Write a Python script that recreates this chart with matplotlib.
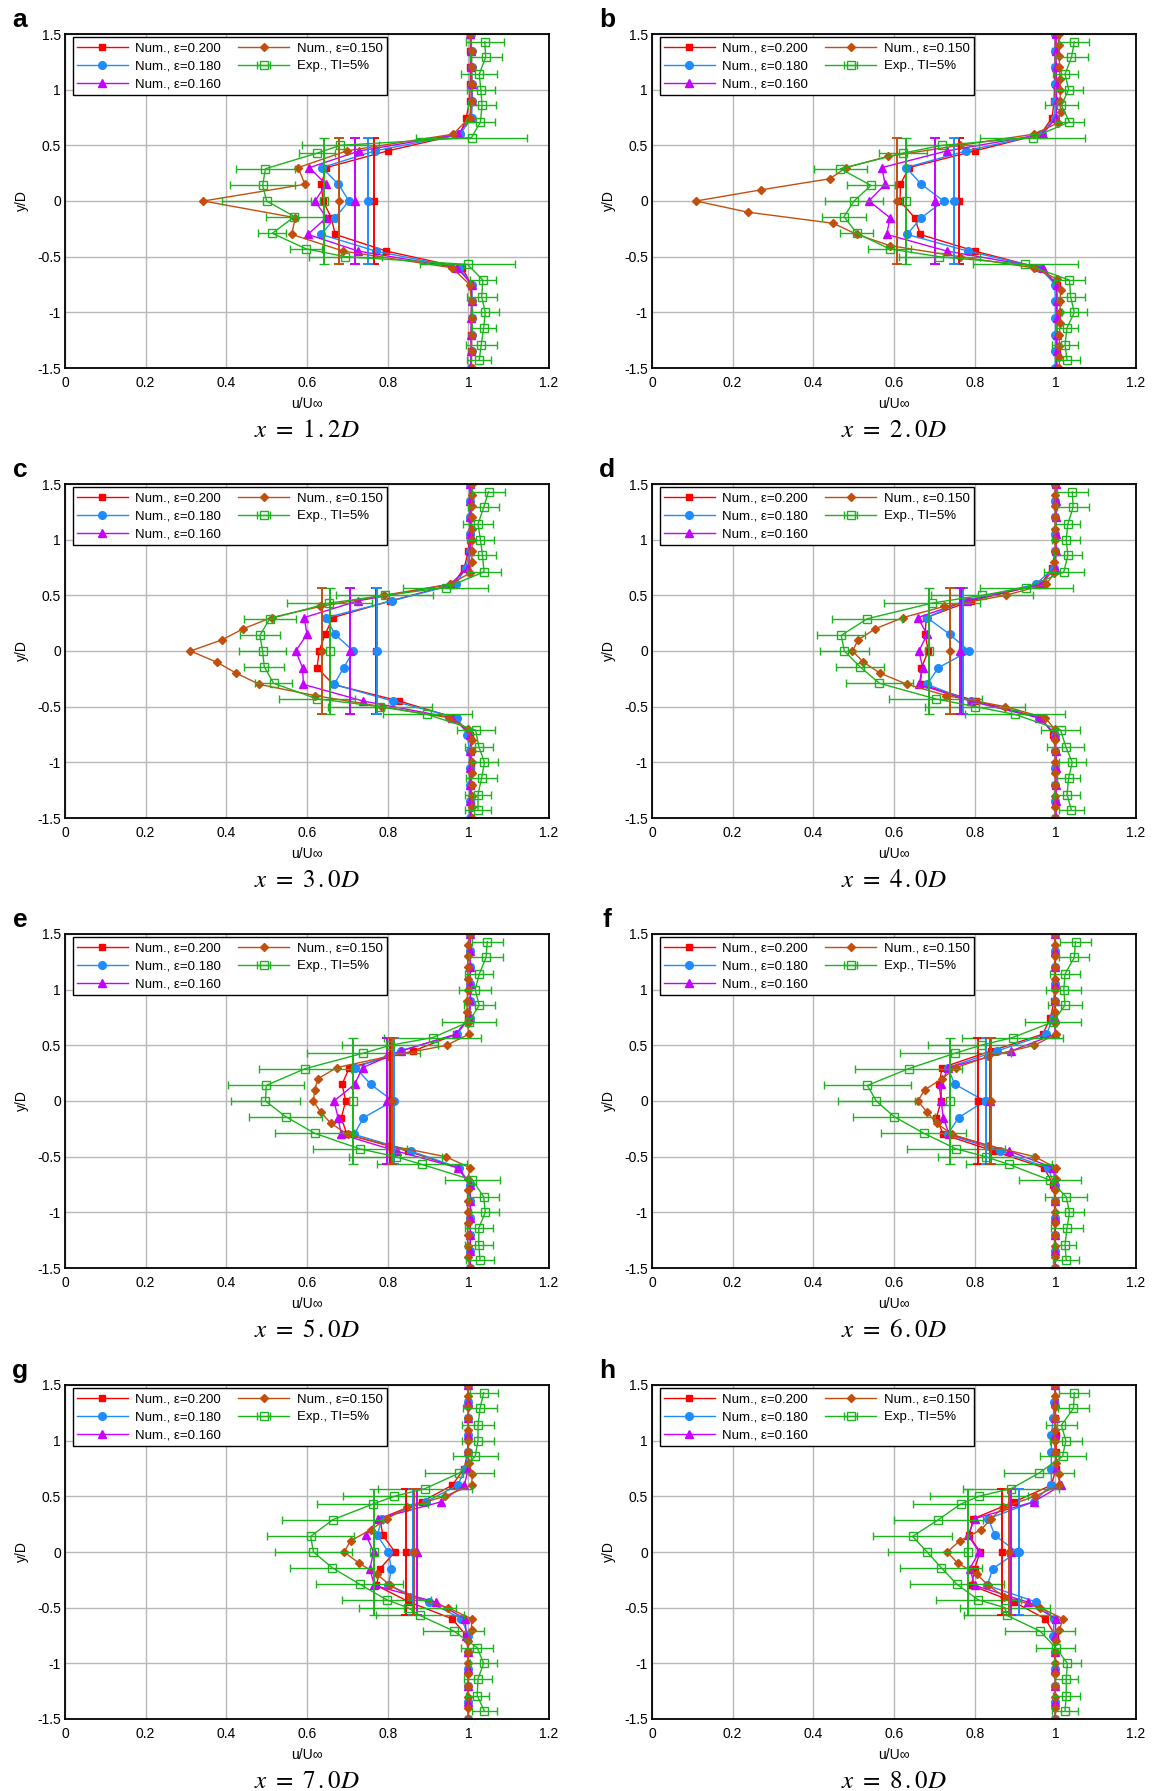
import numpy as np
import matplotlib.pyplot as plt

plt.rcParams['font.family'] = ['Liberation Sans', 'DejaVu Sans']
plt.rcParams['mathtext.fontset'] = 'stix'

panels = ['a', 'b', 'c', 'd', 'e', 'f', 'g', 'h']
stations = ['1', '2', '3', '4', '5', '6', '7', '8']
station_dec = ['2', '0', '0', '0', '0', '0', '0', '0']

# y/D stations of the numerical profiles
y_num = [1.5, 1.35, 1.2, 1.05, 0.9, 0.75, 0.6, 0.45, 0.3, 0.15, 0,
         -0.15, -0.3, -0.45, -0.6, -0.75, -0.9, -1.05, -1.2, -1.35, -1.5]
y_fine = [1.5, 1.4, 1.3, 1.2, 1.1, 1.0, 0.9, 0.8, 0.7, 0.6, 0.5, 0.4, 0.3, 0.2, 0.1, 0,
          -0.1, -0.2, -0.3, -0.4, -0.5, -0.6, -0.7, -0.8, -0.9, -1.0, -1.1, -1.2, -1.3, -1.4, -1.5]
y_exp = [1.43, 1.29, 1.14, 1.0, 0.86, 0.71, 0.57, 0.5, 0.43, 0.29, 0.14, 0,
         -0.14, -0.29, -0.43, -0.5, -0.57, -0.71, -0.86, -1.0, -1.14, -1.29, -1.43]

# Num., eps=0.200
eps200 = {
    'a': [1.005, 1.005, 1.005, 1.005, 1.003, 0.995, 0.98, 0.80, 0.648, 0.635, 0.64, 0.66, 0.67, 0.797, 0.985, 1.007, 1.008, 1.008, 1.007, 1.007, 1.007],
    'b': [1.0, 0.999, 0.999, 0.998, 0.997, 0.992, 0.964, 0.80, 0.637, 0.616, 0.615, 0.651, 0.665, 0.80, 0.96, 1.003, 1.004, 1.004, 1.004, 1.004, 1.004],
    'c': [1.005, 1.005, 1.005, 1.003, 1.0, 0.99, 0.963, 0.807, 0.664, 0.645, 0.63, 0.625, 0.665, 0.829, 0.967, 1.005, 1.007, 1.007, 1.007, 1.007, 1.007],
    'd': [1.0, 1.0, 1.0, 1.0, 1.0, 0.992, 0.965, 0.79, 0.68, 0.677, 0.685, 0.668, 0.666, 0.804, 0.965, 0.995, 1.0, 1.0, 1.0, 1.0, 1.0],
    'e': [1.005, 1.005, 1.005, 1.005, 1.005, 1.0, 0.97, 0.864, 0.705, 0.687, 0.696, 0.685, 0.699, 0.85, 0.975, 1.005, 1.005, 1.005, 1.005, 1.005, 1.005],
    'f': [1.0, 1.0, 1.0, 0.998, 0.997, 0.988, 0.969, 0.841, 0.719, 0.712, 0.717, 0.705, 0.722, 0.847, 0.972, 0.995, 1.0, 1.0, 1.0, 1.0, 1.0],
    'g': [1.0, 1.0, 1.0, 1.0, 0.998, 0.99, 0.96, 0.884, 0.781, 0.788, 0.818, 0.781, 0.772, 0.854, 0.96, 0.995, 1.0, 1.0, 1.0, 1.0, 1.0],
    'h': [1.0, 1.0, 1.0, 1.002, 1.002, 1.002, 0.99, 0.898, 0.797, 0.786, 0.813, 0.80, 0.792, 0.898, 0.975, 1.0, 1.0, 1.0, 1.0, 1.0, 1.0],
}
# Num., eps=0.180
eps180 = {
    'a': [1.007, 1.008, 1.008, 1.01, 1.01, 1.008, 0.98, 0.768, 0.637, 0.678, 0.704, 0.67, 0.635, 0.77, 0.978, 1.008, 1.01, 1.01, 1.008, 1.008, 1.007],
    'b': [1.0, 1.0, 1.0, 1.0, 1.0, 0.998, 0.966, 0.779, 0.63, 0.668, 0.723, 0.668, 0.632, 0.783, 0.962, 0.999, 1.0, 1.0, 1.0, 1.0, 1.0],
    'c': [1.003, 1.003, 1.003, 1.003, 1.003, 0.994, 0.969, 0.81, 0.648, 0.669, 0.715, 0.691, 0.667, 0.813, 0.972, 0.997, 1.003, 1.003, 1.003, 1.003, 1.003],
    'd': [1.0, 1.0, 1.0, 1.0, 1.0, 0.997, 0.952, 0.772, 0.682, 0.738, 0.786, 0.71, 0.682, 0.79, 0.96, 1.0, 1.0, 1.0, 1.0, 1.0, 1.0],
    'e': [1.005, 1.005, 1.005, 1.005, 1.005, 1.003, 0.972, 0.832, 0.72, 0.758, 0.813, 0.74, 0.717, 0.857, 0.978, 1.003, 1.005, 1.005, 1.005, 1.005, 1.005],
    'f': [1.0, 1.0, 1.0, 1.0, 1.0, 0.995, 0.978, 0.856, 0.733, 0.751, 0.825, 0.76, 0.733, 0.864, 0.981, 0.998, 1.0, 1.0, 1.0, 1.0, 1.0],
    'g': [1.0, 1.0, 1.0, 1.0, 1.0, 0.992, 0.974, 0.894, 0.786, 0.774, 0.802, 0.809, 0.802, 0.903, 0.983, 1.0, 1.0, 1.0, 1.0, 1.0, 1.0],
    'h': [1.0, 0.997, 0.995, 0.99, 0.99, 0.99, 0.99, 0.946, 0.834, 0.85, 0.905, 0.845, 0.831, 0.953, 0.997, 0.995, 1.0, 1.0, 1.0, 1.0, 1.0],
}
# Num., eps=0.160
eps160 = {
    'a': [1.005, 1.007, 1.007, 1.008, 1.008, 1.005, 0.975, 0.73, 0.606, 0.647, 0.62, 0.648, 0.602, 0.727, 0.973, 1.008, 1.008, 1.007, 1.007, 1.007, 1.005],
    'b': [1.002, 1.002, 1.002, 1.003, 1.003, 1.002, 0.969, 0.731, 0.57, 0.578, 0.538, 0.59, 0.582, 0.731, 0.969, 1.003, 1.003, 1.003, 1.003, 1.003, 1.002],
    'c': [1.005, 1.005, 1.005, 1.005, 1.005, 1.0, 0.955, 0.726, 0.593, 0.60, 0.572, 0.589, 0.591, 0.74, 0.96, 1.005, 1.005, 1.005, 1.005, 1.005, 1.005],
    'd': [1.002, 1.002, 1.002, 1.002, 1.002, 1.0, 0.965, 0.78, 0.659, 0.682, 0.662, 0.671, 0.662, 0.79, 0.96, 1.0, 1.002, 1.002, 1.002, 1.002, 1.002],
    'e': [1.005, 1.005, 1.005, 1.005, 1.005, 1.003, 0.969, 0.833, 0.738, 0.718, 0.667, 0.677, 0.685, 0.822, 0.974, 1.003, 1.005, 1.005, 1.005, 1.005, 1.005],
    'f': [1.0, 1.0, 1.0, 1.0, 1.0, 1.0, 0.999, 0.891, 0.735, 0.717, 0.717, 0.722, 0.737, 0.885, 0.995, 1.0, 1.0, 1.0, 1.0, 1.0, 1.0],
    'g': [1.0, 1.0, 1.0, 1.0, 1.0, 1.0, 0.99, 0.932, 0.777, 0.747, 0.765, 0.756, 0.767, 0.919, 0.992, 0.995, 1.0, 1.0, 1.0, 1.0, 1.0],
    'h': [1.0, 1.0, 1.0, 1.0, 1.0, 1.001, 1.015, 0.946, 0.80, 0.784, 0.811, 0.788, 0.80, 0.932, 1.001, 1.0, 1.0, 1.0, 1.0, 1.0, 1.0],
}
# Num., eps=0.150 (panel a on the coarse stations, others on y_fine)
eps150 = {
    'a': [1.005, 1.008, 1.008, 1.008, 1.008, 1.003, 0.962, 0.698, 0.578, 0.595, 0.343, 0.571, 0.562, 0.69, 0.96, 1.003, 1.008, 1.008, 1.008, 1.008, 1.008],
    'b': [1.008, 1.008, 1.01, 1.01, 1.012, 1.012, 1.012, 1.013, 1.006, 0.946, 0.763, 0.584, 0.481, 0.441, 0.27, 0.109,
          0.237, 0.449, 0.508, 0.589, 0.763, 0.946, 1.004, 1.013, 1.012, 1.012, 1.012, 1.01, 1.01, 1.01, 1.01],
    'c': [1.008, 1.008, 1.008, 1.008, 1.008, 1.008, 1.01, 1.008, 1.004, 0.955, 0.79, 0.633, 0.512, 0.442, 0.389, 0.311,
          0.376, 0.425, 0.482, 0.619, 0.786, 0.953, 0.999, 1.008, 1.008, 1.008, 1.008, 1.008, 1.008, 1.008, 1.008],
    'd': [1.0, 1.0, 1.0, 1.0, 1.0, 1.0, 1.0, 0.997, 0.997, 0.978, 0.877, 0.724, 0.622, 0.554, 0.511, 0.497,
          0.524, 0.566, 0.633, 0.729, 0.876, 0.975, 0.998, 1.0, 1.0, 1.0, 1.0, 1.0, 1.0, 1.0, 1.0],
    'e': [1.005, 0.998, 0.998, 0.999, 0.998, 0.998, 0.997, 0.997, 0.998, 1.001, 0.946, 0.801, 0.674, 0.627, 0.619, 0.616,
          0.634, 0.659, 0.701, 0.804, 0.944, 1.004, 0.999, 0.998, 0.998, 0.998, 0.998, 0.998, 0.998, 0.998, 1.005],
    'f': [1.0, 0.998, 0.998, 0.998, 0.998, 0.998, 0.998, 0.998, 0.999, 1.001, 0.948, 0.834, 0.754, 0.719, 0.676, 0.659,
          0.682, 0.706, 0.744, 0.833, 0.949, 1.001, 1.001, 0.998, 0.998, 0.998, 0.998, 0.998, 0.998, 0.998, 1.0],
    'g': [1.0, 0.999, 1.0, 1.0, 1.0, 1.0, 1.0, 1.001, 1.01, 1.008, 0.941, 0.848, 0.799, 0.758, 0.708, 0.692,
          0.729, 0.774, 0.806, 0.856, 0.949, 1.008, 1.008, 0.999, 1.0, 1.0, 1.0, 1.0, 1.0, 1.0, 1.0],
    'h': [1.0, 0.998, 0.998, 1.0, 0.998, 0.998, 1.0, 1.001, 1.008, 1.01, 0.949, 0.87, 0.841, 0.816, 0.763, 0.732,
          0.758, 0.806, 0.833, 0.873, 0.963, 1.019, 1.01, 1.001, 0.998, 1.0, 1.0, 1.0, 1.0, 1.0, 1.0],
}
# Exp., TI=5%
exp_u = {
    'a': [1.041, 1.043, 1.027, 1.031, 1.034, 1.03, 1.008, 0.683, 0.625, 0.497, 0.49, 0.50, 0.569, 0.514, 0.598, 0.695, 0.998, 1.036, 1.033, 1.042, 1.038, 1.032, 1.027],
    'b': [1.047, 1.04, 1.024, 1.033, 1.015, 1.035, 0.944, 0.72, 0.622, 0.467, 0.543, 0.501, 0.476, 0.508, 0.589, 0.712, 0.926, 1.035, 1.038, 1.047, 1.029, 1.024, 1.029],
    'c': [1.05, 1.038, 1.024, 1.03, 1.035, 1.039, 0.944, 0.793, 0.655, 0.508, 0.483, 0.49, 0.494, 0.517, 0.625, 0.781, 0.898, 1.018, 1.026, 1.04, 1.033, 1.024, 1.024],
    'd': [1.042, 1.044, 1.031, 1.027, 1.031, 1.021, 0.928, 0.818, 0.694, 0.534, 0.469, 0.477, 0.515, 0.564, 0.703, 0.802, 0.90, 1.013, 1.026, 1.042, 1.033, 1.029, 1.04],
    'e': [1.047, 1.044, 1.027, 1.017, 1.027, 1.001, 0.912, 0.806, 0.74, 0.595, 0.499, 0.497, 0.547, 0.619, 0.731, 0.82, 0.885, 1.01, 1.038, 1.042, 1.026, 1.026, 1.029],
    'f': [1.05, 1.047, 1.024, 1.021, 1.024, 0.994, 0.894, 0.815, 0.752, 0.636, 0.534, 0.556, 0.60, 0.674, 0.754, 0.827, 0.885, 0.986, 1.027, 1.035, 1.029, 1.024, 1.027],
    'g': [1.038, 1.029, 1.024, 1.024, 1.017, 0.978, 0.893, 0.816, 0.763, 0.664, 0.609, 0.616, 0.662, 0.731, 0.798, 0.85, 0.88, 0.964, 1.022, 1.038, 1.024, 1.022, 1.04],
    'h': [1.047, 1.045, 1.015, 1.026, 1.018, 0.96, 0.891, 0.81, 0.765, 0.71, 0.646, 0.682, 0.717, 0.756, 0.809, 0.875, 0.88, 0.962, 1.001, 1.03, 1.027, 1.027, 1.024],
}
exp_err = {
    'a': [0.047, 0.04, 0.045, 0.035, 0.035, 0.035, 0.137, 0.095, 0.045, 0.073, 0.08, 0.11, 0.07, 0.035, 0.04, 0.09, 0.117, 0.033, 0.037, 0.034, 0.03, 0.038, 0.03],
    'b': [0.037, 0.04, 0.031, 0.035, 0.04, 0.037, 0.13, 0.09, 0.06, 0.066, 0.059, 0.072, 0.055, 0.041, 0.053, 0.10, 0.13, 0.039, 0.035, 0.031, 0.028, 0.032, 0.031],
    'c': [0.042, 0.039, 0.037, 0.033, 0.034, 0.042, 0.105, 0.12, 0.105, 0.065, 0.05, 0.058, 0.05, 0.046, 0.095, 0.13, 0.11, 0.047, 0.034, 0.033, 0.039, 0.033, 0.033],
    'd': [0.038, 0.039, 0.031, 0.035, 0.035, 0.049, 0.115, 0.127, 0.12, 0.087, 0.059, 0.061, 0.06, 0.082, 0.116, 0.124, 0.125, 0.048, 0.046, 0.034, 0.028, 0.033, 0.032],
    'e': [0.039, 0.043, 0.035, 0.04, 0.038, 0.067, 0.12, 0.12, 0.14, 0.113, 0.094, 0.085, 0.09, 0.098, 0.117, 0.115, 0.111, 0.068, 0.038, 0.035, 0.034, 0.034, 0.034],
    'f': [0.038, 0.037, 0.038, 0.043, 0.043, 0.07, 0.125, 0.13, 0.138, 0.133, 0.107, 0.096, 0.101, 0.105, 0.121, 0.118, 0.107, 0.077, 0.052, 0.037, 0.04, 0.027, 0.032],
    'g': [0.035, 0.042, 0.039, 0.039, 0.056, 0.085, 0.117, 0.126, 0.137, 0.125, 0.108, 0.095, 0.103, 0.108, 0.11, 0.12, 0.109, 0.076, 0.04, 0.033, 0.034, 0.029, 0.03],
    'h': [0.037, 0.039, 0.039, 0.039, 0.057, 0.087, 0.119, 0.121, 0.118, 0.111, 0.098, 0.098, 0.102, 0.116, 0.105, 0.112, 0.106, 0.086, 0.048, 0.034, 0.028, 0.033, 0.032],
}

# wake-averaged velocity of each series, drawn at y/D=0 over |y/D|<=0.57
mean200 = [0.766, 0.762, 0.77, 0.768, 0.807, 0.808, 0.846, 0.868]
mean180 = [0.752, 0.749, 0.774, 0.772, 0.816, 0.829, 0.864, 0.909]
mean160 = [0.72, 0.701, 0.706, 0.763, 0.798, 0.838, 0.872, 0.889]
mean150 = [0.68, 0.607, 0.637, 0.738, 0.81, 0.841, 0.865, 0.885]
mean_exp = [0.642, 0.63, 0.657, 0.688, 0.714, 0.738, 0.765, 0.784]
wake_half = 0.57

W, H = 1153, 1791
fig = plt.figure(figsize=(W / 100, H / 100), dpi=100)
lefts = [65, 652]
tops = [34, 484, 934, 1385]
aw, ah = 484, 334

c200, c180, c160, c150, cexp = '#ff0000', '#1e8cff', '#c800ff', '#c2500c', '#1cb41c'

for i, p in enumerate(panels):
    r, c = divmod(i, 2)
    ax = fig.add_axes([lefts[c] / W, 1 - (tops[r] + ah) / H, aw / W, ah / H])

    ax.plot(eps200[p], y_num, '-s', color=c200, lw=1.0, ms=4.8, label='Num., ε=0.200')
    ax.plot(eps180[p], y_num, '-o', color=c180, lw=1.0, ms=5.5, label='Num., ε=0.180')
    ax.plot(eps160[p], y_num, '-^', color=c160, lw=1.0, ms=5.5, label='Num., ε=0.160')
    y150 = y_num if len(eps150[p]) == len(y_num) else y_fine
    ax.plot(eps150[p], y150, '-D', color=c150, lw=1.0, ms=4, label='Num., ε=0.150')
    ax.errorbar(exp_u[p], y_exp, xerr=exp_err[p], fmt='-s', color=cexp, lw=1.0, ms=5.8,
                mfc='none', mew=1, capsize=3, elinewidth=1, label='Exp., TI=5%')

    for m, col, mk, ms in [(mean200, c200, 's', 4.8), (mean180, c180, 'o', 5.5),
                           (mean160, c160, '^', 5.5), (mean150, c150, 'D', 4)]:
        ax.errorbar([m[i]], [0], yerr=wake_half, fmt=mk, color=col, ms=ms,
                    capsize=3.5, elinewidth=1.4, capthick=1.4)
    ax.errorbar([mean_exp[i]], [0], yerr=wake_half, fmt='s', color=cexp, ms=5.8,
                mfc='none', mew=1, capsize=3.5, elinewidth=1.4, capthick=1.4)

    ax.set_xlim(0, 1.2)
    ax.set_ylim(-1.5, 1.5)
    ax.set_xticks([0, 0.2, 0.4, 0.6, 0.8, 1.0, 1.2])
    ax.set_xticklabels(['0', '0.2', '0.4', '0.6', '0.8', '1', '1.2'])
    ax.set_yticks([-1.5, -1, -0.5, 0, 0.5, 1, 1.5])
    ax.set_yticklabels(['-1.5', '-1', '-0.5', '0', '0.5', '1', '1.5'])
    ax.tick_params(axis='x', length=0, pad=6, labelsize=10)
    ax.tick_params(axis='y', length=0, pad=3, labelsize=10)
    ax.grid(True, color='#b8b8b8', lw=1.0)
    ax.set_axisbelow(True)
    for s in ax.spines.values():
        s.set_linewidth(1.3)
    ax.set_xlabel('u/U∞', fontsize=10, labelpad=5)
    ax.set_ylabel('y/D', fontsize=10, labelpad=6)

    ax.legend(loc='upper left', bbox_to_anchor=(0.016, 0.99), borderaxespad=0, ncol=2,
              fontsize=9.5, handlelength=3.8, handletextpad=0.6, columnspacing=1.3,
              borderpad=0.35, labelspacing=0.45, fancybox=False, framealpha=1,
              edgecolor='black')

    ax.text(-0.093, 1.042, p, transform=ax.transAxes, fontsize=19, fontweight='bold',
            ha='center', va='center')
    ax.text(0.5, -0.186, r'$x\ =\ ' + stations[i] + r'\,.' + station_dec[i] + r'D$',
            transform=ax.transAxes, fontsize=18, ha='center', va='center')

fig.savefig('out.png', dpi=100)
